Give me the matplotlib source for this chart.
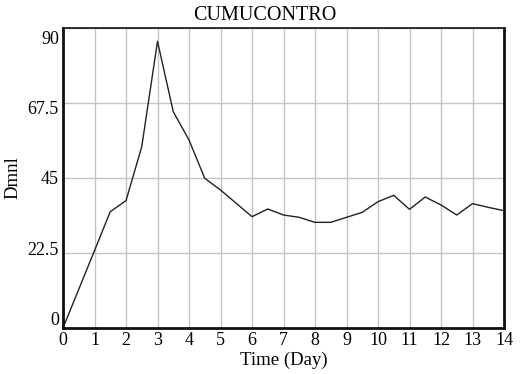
import matplotlib.pyplot as plt
from matplotlib.transforms import ScaledTranslation

plt.rcParams["font.family"] = ["Liberation Serif", "DejaVu Serif"]

TITLE = "CUMUCONTRO"
XLABEL = "Time (Day)"
YLABEL = "Dmnl"

# simulation output, sampled every half day
time_days = [0, 0.5, 1, 1.5, 2, 2.5, 3, 3.5, 4, 4.5, 5, 5.5, 6, 6.5, 7,
             7.5, 8, 8.5, 9, 9.5, 10, 10.5, 11, 11.5, 12, 12.5, 13, 13.5, 14]
cumucontro = [0, 11.6, 23.2, 34.9, 38.2, 54.4, 86.0, 64.9, 56.4, 44.9, 41.4,
              37.4, 33.4, 35.7, 33.9, 33.2, 31.7, 31.7, 33.2, 34.7, 37.9,
              39.8, 35.6, 39.3, 36.9, 33.9, 37.3, 36.2, 35.2]

x_ticks = list(range(0, 15))
y_ticks = [0, 22.5, 45, 67.5, 90]
y_tick_labels = ["0", "22.5", "45", "67.5", "90"]


def main():
    fig = plt.figure(figsize=(5.22, 3.74), dpi=100)
    ax = fig.add_axes([63 / 522, 46 / 374, 441 / 522, 300 / 374])

    ax.plot(time_days, cumucontro, color="#222222", linewidth=1.0)

    ax.set_xlim(0, 14)
    ax.set_ylim(0, 90)
    ax.set_xticks(x_ticks)
    ax.set_yticks(y_ticks)
    ax.set_yticklabels(y_tick_labels)
    ax.grid(True, color="#c4c4c4", linewidth=1.0)
    ax.set_axisbelow(True)
    ax.tick_params(length=0, labelsize=13, pad=3)
    ax.tick_params(axis="x", pad=3)

    # spread the y labels inwards a little, the way the simulator draws them
    shifts = [7, 3.5, 0, -3.5, -7]
    for lbl, dy in zip(ax.get_yticklabels(), shifts):
        lbl.set_transform(lbl.get_transform() + ScaledTranslation(0, dy / 72, fig.dpi_scale_trans))

    for side in ("left", "bottom", "right"):
        ax.spines[side].set_linewidth(2.0)
    ax.spines["top"].set_linewidth(1.2)
    for spine in ax.spines.values():
        spine.set_color("#111111")

    fig.text(265 / 522, 1 - 15 / 374, TITLE, ha="center", va="center", fontsize=14.5)
    ax.set_xlabel(XLABEL, fontsize=13.5, labelpad=2)
    ax.set_ylabel(YLABEL, fontsize=13.5, labelpad=4)

    fig.savefig("out.png", dpi=100)


if __name__ == "__main__":
    main()
